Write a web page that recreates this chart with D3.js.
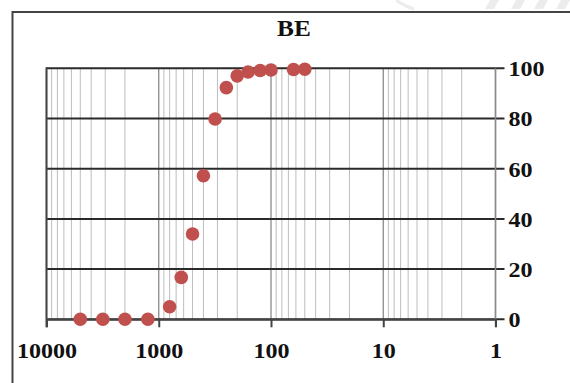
<!DOCTYPE html>
<html>
<head>
<meta charset="utf-8">
<script src="https://cdn.jsdelivr.net/npm/d3@7"></script>
<style>
  body { margin: 0; background: #fff; }
  svg { display: block; }
  .lbl { font-family: "Liberation Serif", "Times New Roman", serif; font-weight: bold; fill: #111; }
</style>
</head>
<body>
<div id="wrapper"></div>
<script>
// particle size (x, log, reversed) vs cumulative percent (y)
const sizes   = [5000, 3150, 2000, 1250, 800, 630, 500, 400, 315, 250, 200, 160, 125, 100, 63, 50]
const percent = [0, 0, 0, 0, 5, 16.7, 34, 57.2, 79.8, 92.3, 97, 98.5, 99.1, 99.3, 99.5, 99.6]
const xTickValues = [10000, 1000, 100, 10, 1]
const yTickValues = [0, 20, 40, 60, 80, 100]
const title = "BE"

const width = 570
const height = 383
const plot = { left: 46.5, right: 495.5, top: 68.3, bottom: 319.3 }

const svg = d3.select("#wrapper").append("svg")
    .attr("width", width)
    .attr("height", height)

// faint watermark bits above the frame
const wm = svg.append("g").attr("fill", "#ececec")
;[490, 516, 539, 561].forEach(x0 => {
  wm.append("path").attr("d", `M${x0},0 L${x0 + 9},0 L${x0 + 4},9 L${x0 - 5},9 Z`)
})
svg.append("path")
    .attr("d", "M396,0 Q404,6 414,9")
    .attr("fill", "none")
    .attr("stroke", "#ececec")
    .attr("stroke-width", 3)

// outer chart border (only top and left visible)
svg.append("path")
    .attr("d", `M12.5,${height} L12.5,12 L${width},12`)
    .attr("fill", "none")
    .attr("stroke", "#444")
    .attr("stroke-width", 2)

const x = d3.scaleLog()
    .domain([10000, 1])
    .range([plot.left, plot.right])

const y = d3.scaleLinear()
    .domain([0, 100])
    .range([plot.bottom, plot.top])

// vertical gridlines (minor + major)
const gridTicks = x.ticks()
svg.append("g")
  .selectAll("line")
  .data(gridTicks)
  .join("line")
    .attr("x1", d => x(d))
    .attr("x2", d => x(d))
    .attr("y1", plot.top)
    .attr("y2", plot.bottom)
    .attr("stroke", d => xTickValues.includes(d) ? "#8a8a8a" : "#bdbdbd")
    .attr("stroke-width", d => xTickValues.includes(d) ? 1.3 : 1)

// horizontal gridlines extend past the right edge as ticks
svg.append("g")
  .selectAll("line")
  .data(yTickValues)
  .join("line")
    .attr("x1", plot.left)
    .attr("x2", plot.right + 9)
    .attr("y1", d => y(d))
    .attr("y2", d => y(d))
    .attr("stroke", "#2a2a2a")
    .attr("stroke-width", 2)

// right axis line (grey)
svg.append("line")
    .attr("x1", plot.right).attr("x2", plot.right)
    .attr("y1", plot.top).attr("y2", plot.bottom + 8)
    .attr("stroke", "#8a8a8a")
    .attr("stroke-width", 1.5)

// left axis line
svg.append("line")
    .attr("x1", plot.left).attr("x2", plot.left)
    .attr("y1", plot.top - 1).attr("y2", plot.bottom + 8)
    .attr("stroke", "#444")
    .attr("stroke-width", 2)

// bottom axis with major ticks
const xAxis = d3.axisBottom(x)
    .tickValues(xTickValues)
    .tickFormat(d3.format("d"))
    .tickSize(8)
    .tickSizeOuter(0)

const xAxisG = svg.append("g")
    .attr("transform", `translate(0,${plot.bottom})`)
    .call(xAxis)
xAxisG.select(".domain").attr("stroke", "#444").attr("stroke-width", 2)
xAxisG.selectAll(".tick line").attr("stroke", "#444").attr("stroke-width", 2)
xAxisG.selectAll(".tick text")
    .attr("class", "lbl")
    .attr("x", 0)
    .attr("y", 38.5)
    .attr("dy", 0)
    .attr("font-size", 21.5)
    .attr("transform", "scale(1.12,1)")

// right axis labels
const yAxis = d3.axisRight(y)
    .tickValues(yTickValues)
    .tickSize(0)
    .tickPadding(0)

const yAxisG = svg.append("g")
    .attr("transform", `translate(${plot.right},0)`)
    .call(yAxis)
yAxisG.select(".domain").remove()
yAxisG.selectAll(".tick text")
    .attr("class", "lbl")
    .attr("x", 13 / 1.12)
    .attr("dy", "0.34em")
    .attr("font-size", 21.5)
    .attr("text-anchor", "start")
    .attr("transform", "scale(1.12,1)")

// title
svg.append("text")
    .attr("class", "lbl")
    .attr("x", 294 / 1.1)
    .attr("y", 36)
    .attr("transform", "scale(1.1,1)")
    .attr("text-anchor", "middle")
    .attr("font-size", 23)
    .text(title)

// data points
svg.append("g")
  .selectAll("circle")
  .data(sizes.map((s, i) => ({ size: s, pct: percent[i] })))
  .join("circle")
    .attr("cx", d => x(d.size))
    .attr("cy", d => y(d.pct))
    .attr("r", 6.8)
    .attr("fill", "#c0504d")
</script>
</body>
</html>
